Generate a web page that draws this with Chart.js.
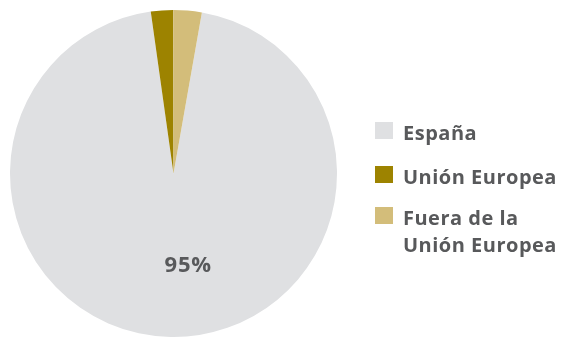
<!DOCTYPE html>
<html>
<head>
<meta charset="utf-8">
<script src="https://cdn.jsdelivr.net/npm/chart.js@4"></script>
<style>
  html, body { margin: 0; padding: 0; background: #ffffff; }
  #wrap { width: 562px; height: 337px; }
</style>
</head>
<body>
<div id="wrap"><canvas id="pieChart"></canvas></div>
<script>
// datos
var categorias = ['España', 'Unión Europea', 'Fuera de la Unión Europea'];
var etiquetasLeyenda = [['España'], ['Unión Europea'], ['Fuera de la', 'Unión Europea']];
var valores = [95, 2.2, 2.8];
var etiquetaPrincipal = '95%';
var colores = ['#dfe0e2', '#9d8300', '#d3bd7a'];

var _fuente = "'Open Sans', 'DejaVu Sans', sans-serif";
var _colorTexto = '#58595b';

// leyenda y etiqueta dibujadas a mano
var leyendaPlugin = {
    id: 'leyendaPlugin',
    afterDraw: function (chart) {
        var ctx = chart.ctx;
        var arcs = chart.getDatasetMeta(0).data;
        var area = chart.chartArea;
        ctx.save();
        ctx.font = 'bold 20px ' + _fuente;
        ctx.letterSpacing = '0.5px';
        ctx.textBaseline = 'alphabetic';
        ctx.textAlign = 'left';
        var x0 = area.right + 38;
        var filas = [140, 184, 225];
        for (var i = 0; i < categorias.length; i++) {
            ctx.fillStyle = colores[i];
            ctx.fillRect(x0, filas[i] - 18, 18, 17);
            ctx.fillStyle = _colorTexto;
            for (var j = 0; j < etiquetasLeyenda[i].length; j++) {
                ctx.fillText(etiquetasLeyenda[i][j], x0 + 28, filas[i] + j * 27);
            }
        }
        // porcentaje principal
        var a = arcs[0];
        ctx.font = 'bold 22px ' + _fuente;
        ctx.letterSpacing = '0.8px';
        ctx.textAlign = 'center';
        ctx.fillText(etiquetaPrincipal, a.x + 0.09 * a.outerRadius, a.y + 0.6 * a.outerRadius);
        ctx.restore();
    }
};

var ctx = document.getElementById('pieChart');
var PieChart = new Chart(ctx, {
    type: 'pie',
    data: {
        labels: categorias,
        datasets: [{
            data: valores,
            backgroundColor: colores,
            borderWidth: 0
        }]
    },
    options: {
        responsive: true,
        maintainAspectRatio: false,
        animation: false,
        rotation: 10,
        layout: { padding: { top: 10, left: 10, right: 225, bottom: 0 } },
        plugins: {
            legend: { display: false },
            tooltip: { enabled: false }
        }
    },
    plugins: [leyendaPlugin]
});
</script>
</body>
</html>
